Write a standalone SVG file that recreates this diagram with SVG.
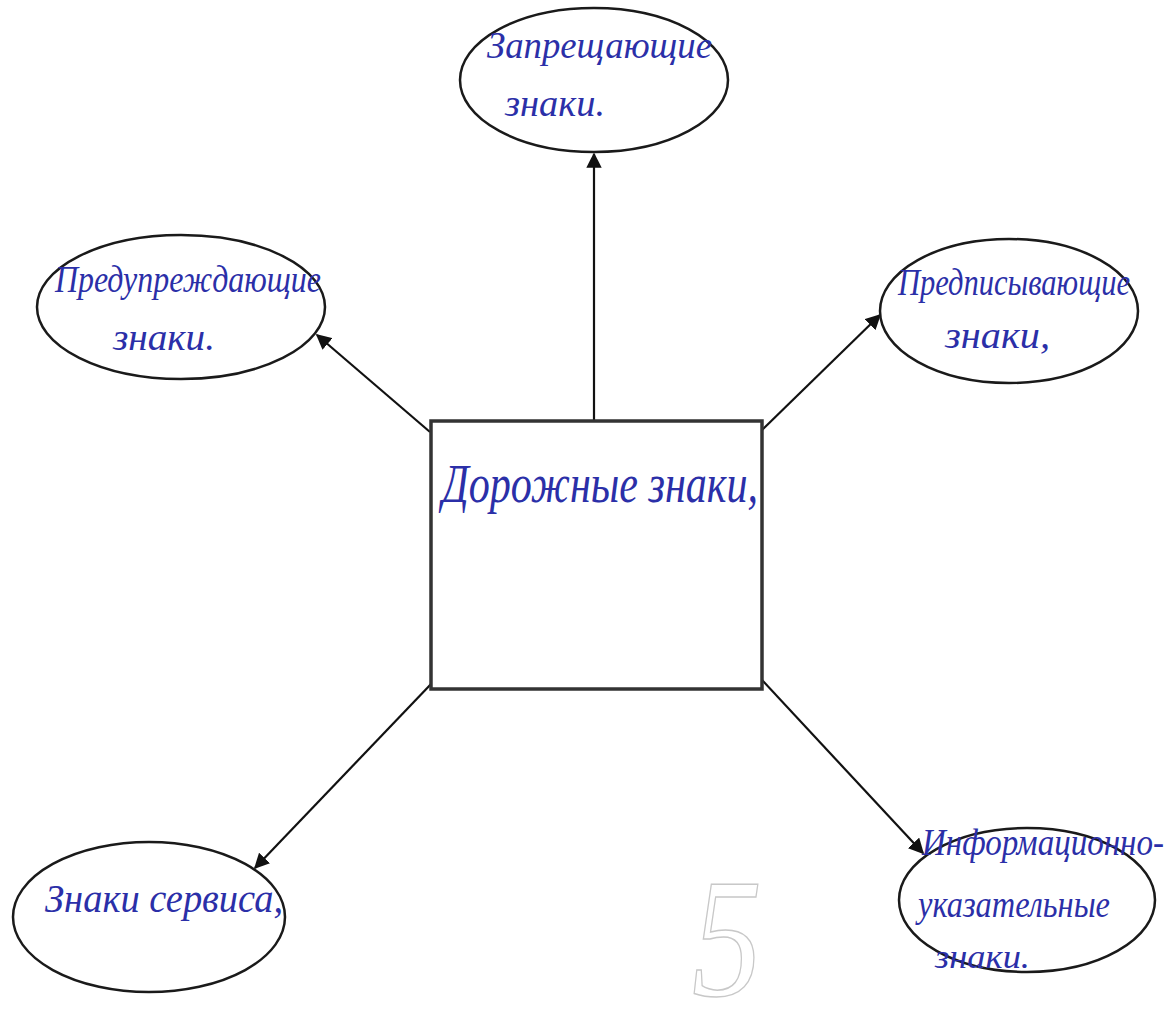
<svg xmlns="http://www.w3.org/2000/svg" width="1173" height="1017" viewBox="0 0 1173 1017">
<style>
.node ellipse{fill:none;stroke:#1a1a1a;stroke-width:2.5}
.box{fill:#fff;stroke:#333;stroke-width:3.5}
.hw{font-family:"Liberation Serif","DejaVu Serif",serif;font-style:italic;fill:#2b2fa8}
.conn line{stroke:#111;stroke-width:2.2;marker-end:url(#ah)}
</style>
<defs>
<marker id="ah" viewBox="0 0 10 10" refX="9" refY="5" markerWidth="7" markerHeight="7" markerUnits="strokeWidth" orient="auto">
<path d="M0,0 L10,5 L0,10 z" fill="#111"/>
</marker>
</defs>
<rect width="1173" height="1017" fill="#fff"/>
<g id="connectors" class="conn">
<line x1="594" y1="420" x2="594" y2="154"/>
<line x1="430" y1="432" x2="317" y2="335"/>
<line x1="762" y1="430" x2="880" y2="315"/>
<line x1="432" y1="683" x2="255" y2="868"/>
<line x1="762" y1="680" x2="923" y2="853"/>
</g>
<g id="center">
<rect class="box" x="431" y="421" width="331" height="268"/>
<text class="hw" x="442" y="502" font-size="54" textLength="316" lengthAdjust="spacingAndGlyphs">Дорожные знаки,</text>
</g>
<g id="top" class="node">
<ellipse cx="594" cy="80" rx="134" ry="72"/>
<text class="hw" x="487" y="58" font-size="38" textLength="225" lengthAdjust="spacingAndGlyphs">Запрещающие</text>
<text class="hw" x="505" y="116" font-size="38" textLength="100" lengthAdjust="spacingAndGlyphs">знаки.</text>
</g>
<g id="left" class="node">
<ellipse cx="181" cy="307" rx="144" ry="72"/>
<text class="hw" x="55" y="292" font-size="38" textLength="266" lengthAdjust="spacingAndGlyphs">Предупреждающие</text>
<text class="hw" x="113" y="350" font-size="38" textLength="102" lengthAdjust="spacingAndGlyphs">знаки.</text>
</g>
<g id="right" class="node">
<ellipse cx="1009" cy="311" rx="129" ry="72"/>
<text class="hw" x="898" y="295" font-size="38" textLength="232" lengthAdjust="spacingAndGlyphs">Предписывающие</text>
<text class="hw" x="945" y="348" font-size="38" textLength="105" lengthAdjust="spacingAndGlyphs">знаки,</text>
</g>
<g id="bottom-left" class="node">
<ellipse cx="149" cy="917" rx="136" ry="75"/>
<text class="hw" x="45" y="912" font-size="40" textLength="238" lengthAdjust="spacingAndGlyphs">Знаки сервиса,</text>
</g>
<g id="bottom-right" class="node">
<ellipse cx="1027" cy="900" rx="128" ry="72"/>
<text class="hw" x="922" y="855" font-size="38" textLength="242" lengthAdjust="spacingAndGlyphs">Информационно-</text>
<text class="hw" x="918" y="917" font-size="38" textLength="192" lengthAdjust="spacingAndGlyphs">указательные</text>
<text class="hw" x="935" y="968" font-size="34" textLength="95" lengthAdjust="spacingAndGlyphs">знаки.</text>
</g>
<text x="692" y="995" font-family="Liberation Serif, serif" font-style="italic" font-size="170" fill="none" stroke="#c8c8c8" stroke-width="1.5" textLength="70" lengthAdjust="spacingAndGlyphs">5</text>
</svg>
